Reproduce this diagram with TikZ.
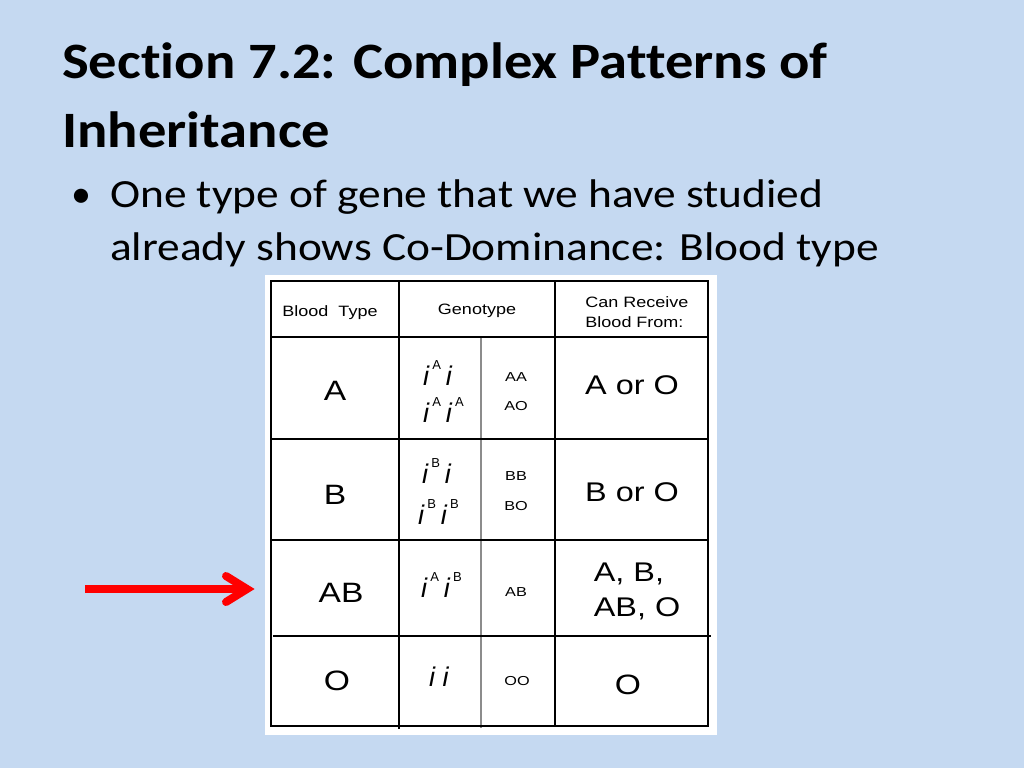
\documentclass[tikz,border=0pt]{standalone}
\usepackage{fontspec}
\setmainfont{Carlito}[Ligatures=NoCommon]
\newfontfamily\arialf{Liberation Sans}
\definecolor{bg}{RGB}{197,217,241}
\newcommand{\gi}[1]{\textit{i}\hspace{2.5pt}\raisebox{16pt}{\fontsize{13}{13}\selectfont #1}\hspace{5pt}}
\newcommand{\sx}[2]{\scalebox{#1}[1]{\begin{tabular}{@{}l@{}}#2\end{tabular}}}
\begin{document}
\begin{tikzpicture}[x=1pt,y=-1pt,
  tline/.style={line width=2pt,black},
  gline/.style={line width=2pt,black!45},
  big/.style={font=\arialf\fontsize{28}{30}\selectfont,inner sep=0pt},
  mid/.style={font=\arialf\fontsize{27}{35}\selectfont,inner sep=0pt},
  hdr/.style={font=\arialf\fontsize{15}{20}\selectfont,inner sep=0pt},
  sml/.style={font=\arialf\fontsize{13}{14}\selectfont,inner sep=0pt},
  geno/.style={font=\arialf\fontsize{27}{28}\selectfont,inner sep=0pt,anchor=base west},
  title/.style={font=\bfseries\fontsize{51}{60}\selectfont,inner sep=0pt,anchor=base west},
  body/.style={font=\fontsize{40}{45}\selectfont,inner sep=0pt,anchor=base west},
  redline/.style={line width=8pt,red}]
\fill[bg] (0,0) rectangle (1024,768);
\useasboundingbox (0,0) rectangle (1024,768);
% title and bullet
\node[title] (t1) at (62,78) {\scalebox{1.11}[1]{Section 7.2: Complex Patterns of}};
\node[title] (t2) at (62,147) {\scalebox{1.11}[1]{Inheritance}};
\node[body] (bul) at (71,207) {•};
\node[body] (b1) at (110,207) {\scalebox{1.135}[1]{One type of gene that we have studied}};
\node[body] (b2) at (110,260) {\scalebox{1.135}[1]{already shows Co-Dominance: Blood type}};
% table panel
\fill[white] (265,275) rectangle (717,735);
\draw[gline] (481,337) -- (481,728);
\draw[tline] (271,281) rectangle (708,726);
\draw[tline] (271,337) -- (708,337);
\draw[tline] (271,439) -- (708,439);
\draw[tline] (271,540) -- (708,540);
\draw[tline] (273,636) -- (711,636);
\draw[tline] (399,281) -- (399,729);
\draw[tline] (555,281) -- (555,726);
% header
\node[hdr] (h1) at (330,312) {\sx{1.2}{Blood\ \ Type}};
\node[hdr] (h2) at (477,310) {\sx{1.2}{Genotype}};
\node[hdr] (h3) at (637,313) {\sx{1.2}{Can Receive\\Blood From:}};
% row A
\node[big] (rA) at (335,394) {\sx{1.2}{A}};
\node[geno] (gA1) at (423,385) {\gi{A}\textit{i}};
\node[geno] (gA2) at (423,422) {\gi{A}\gi{A}};
\node[sml] (sA1) at (516,379) {\sx{1.25}{AA}};
\node[sml] (sA2) at (516,408) {\sx{1.25}{AO}};
\node[mid] (cA) at (632,387) {\sx{1.2}{A or O}};
% row B
\node[big] (rB) at (335,498) {\sx{1.2}{B}};
\node[geno] (gB1) at (422,483) {\gi{B}\textit{i}};
\node[geno] (gB2) at (418,524) {\gi{B}\gi{B}};
\node[sml] (sB1) at (516,478) {\sx{1.25}{BB}};
\node[sml] (sB2) at (516,508) {\sx{1.25}{BO}};
\node[mid] (cB) at (632,494) {\sx{1.2}{B or O}};
% row AB
\node[big] (rAB) at (341,596) {\sx{1.2}{AB}};
\node[geno] (gAB) at (421,597) {\gi{A}\gi{B}};
\node[sml] (sAB) at (516,594) {\sx{1.25}{AB}};
\node[mid] (cAB) at (637,592) {\sx{1.2}{A, B,\\AB, O}};
% row O
\node[big] (rO) at (337,684) {\sx{1.2}{O}};
\node[geno] (gO) at (429,686) {\textit{i i}};
\node[sml] (sO) at (517,683) {\sx{1.25}{OO}};
\node[big] (cO) at (628,688) {\sx{1.2}{O}};
% arrow
\coordinate (as) at (85,589);
\coordinate (at) at (247,589);
\draw[redline] (as) -- (at);
\draw[redline,line cap=round,line join=miter] ([shift={(-21,-13)}]at) -- (at) -- ([shift={(-21,13)}]at);
\end{tikzpicture}
\end{document}
